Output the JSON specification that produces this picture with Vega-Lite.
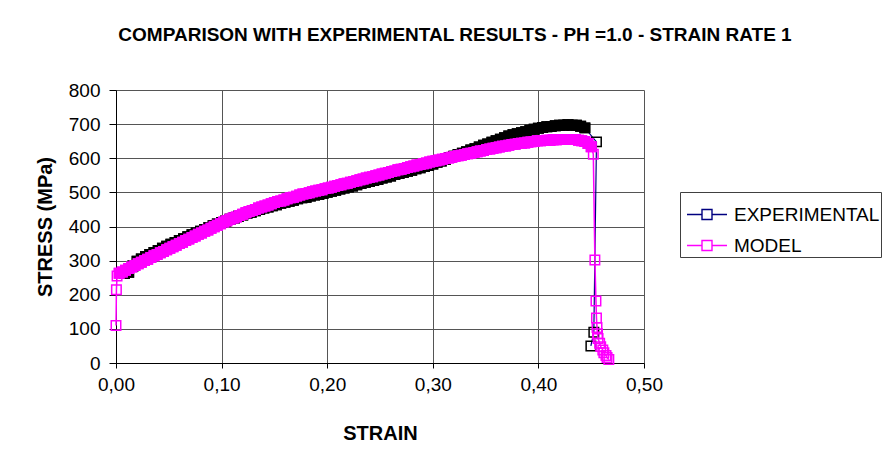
{
  "$schema": "https://vega.github.io/schema/vega-lite/v6.json",
  "width": 528,
  "height": 273,
  "autosize": {"type": "none"},
  "padding": {"left": 116, "top": 90, "right": 241, "bottom": 100},
  "background": "white",
  "title": {
    "text": "COMPARISON WITH EXPERIMENTAL RESULTS - PH =1.0 -  STRAIN RATE 1",
    "font": "Liberation Sans",
    "fontSize": 19,
    "fontWeight": "bold",
    "color": "black",
    "anchor": "middle",
    "dx": 75,
    "offset": 36
  },
  "datasets": {
    "exp": [
      {"x":0.008,"y":262},{"x":0.012,"y":266},{"x":0.016,"y":284},{"x":0.020,"y":298},{"x":0.024,"y":305},{"x":0.028,"y":312},{"x":0.032,"y":318},{"x":0.036,"y":324},{"x":0.040,"y":330},{"x":0.044,"y":336},{"x":0.048,"y":342},{"x":0.052,"y":348},{"x":0.056,"y":353},{"x":0.060,"y":359},{"x":0.064,"y":364},{"x":0.068,"y":370},{"x":0.072,"y":376},{"x":0.076,"y":381},{"x":0.080,"y":386},{"x":0.084,"y":391},{"x":0.088,"y":397},{"x":0.092,"y":402},{"x":0.096,"y":407},{"x":0.100,"y":412},{"x":0.104,"y":416},{"x":0.108,"y":421},{"x":0.112,"y":425},{"x":0.116,"y":430},{"x":0.120,"y":434},{"x":0.124,"y":439},{"x":0.128,"y":442},{"x":0.132,"y":446},{"x":0.136,"y":450},{"x":0.140,"y":454},{"x":0.144,"y":457},{"x":0.148,"y":461},{"x":0.152,"y":464},{"x":0.156,"y":468},{"x":0.160,"y":471},{"x":0.164,"y":474},{"x":0.168,"y":477},{"x":0.172,"y":481},{"x":0.176,"y":484},{"x":0.180,"y":486},{"x":0.184,"y":489},{"x":0.188,"y":492},{"x":0.192,"y":494},{"x":0.196,"y":497},{"x":0.200,"y":500},{"x":0.204,"y":503},{"x":0.208,"y":506},{"x":0.212,"y":510},{"x":0.216,"y":513},{"x":0.220,"y":516},{"x":0.224,"y":519},{"x":0.228,"y":522},{"x":0.232,"y":526},{"x":0.236,"y":529},{"x":0.240,"y":532},{"x":0.244,"y":535},{"x":0.248,"y":538},{"x":0.252,"y":542},{"x":0.256,"y":545},{"x":0.260,"y":548},{"x":0.264,"y":552},{"x":0.268,"y":555},{"x":0.272,"y":558},{"x":0.276,"y":562},{"x":0.280,"y":565},{"x":0.284,"y":569},{"x":0.288,"y":572},{"x":0.292,"y":576},{"x":0.296,"y":579},{"x":0.300,"y":583},{"x":0.304,"y":588},{"x":0.308,"y":592},{"x":0.312,"y":597},{"x":0.316,"y":602},{"x":0.320,"y":606},{"x":0.324,"y":611},{"x":0.328,"y":615},{"x":0.332,"y":619},{"x":0.336,"y":624},{"x":0.340,"y":628},{"x":0.344,"y":633},{"x":0.348,"y":638},{"x":0.352,"y":642},{"x":0.356,"y":647},{"x":0.360,"y":651},{"x":0.364,"y":656},{"x":0.368,"y":660},{"x":0.372,"y":665},{"x":0.376,"y":669},{"x":0.380,"y":672},{"x":0.384,"y":675},{"x":0.388,"y":678},{"x":0.392,"y":682},{"x":0.396,"y":685},{"x":0.400,"y":688},{"x":0.404,"y":690},{"x":0.408,"y":692},{"x":0.412,"y":693},{"x":0.416,"y":695},{"x":0.420,"y":697},{"x":0.424,"y":697},{"x":0.428,"y":698},{"x":0.432,"y":697},{"x":0.436,"y":697},{"x":0.440,"y":694},{"x":0.444,"y":689},{"x":0.455,"y":648},{"x":0.4525,"y":90},{"x":0.4497,"y":50}
    ],
    "mod": [
      {"x":0.0,"y":110},{"x":0.0004,"y":215},{"x":0.001,"y":255},{"x":0.003,"y":263},{"x":0.006,"y":267},{"x":0.009,"y":272},{"x":0.012,"y":277},{"x":0.015,"y":281},{"x":0.018,"y":286},{"x":0.021,"y":291},{"x":0.024,"y":295},{"x":0.027,"y":300},{"x":0.030,"y":304},{"x":0.033,"y":309},{"x":0.036,"y":314},{"x":0.039,"y":318},{"x":0.042,"y":323},{"x":0.045,"y":327},{"x":0.048,"y":332},{"x":0.051,"y":336},{"x":0.054,"y":341},{"x":0.057,"y":345},{"x":0.060,"y":350},{"x":0.063,"y":354},{"x":0.066,"y":359},{"x":0.069,"y":363},{"x":0.072,"y":368},{"x":0.075,"y":372},{"x":0.078,"y":377},{"x":0.081,"y":381},{"x":0.084,"y":386},{"x":0.087,"y":390},{"x":0.090,"y":395},{"x":0.093,"y":399},{"x":0.096,"y":404},{"x":0.099,"y":408},{"x":0.102,"y":413},{"x":0.105,"y":417},{"x":0.108,"y":421},{"x":0.111,"y":425},{"x":0.114,"y":428},{"x":0.117,"y":432},{"x":0.120,"y":436},{"x":0.123,"y":440},{"x":0.126,"y":444},{"x":0.129,"y":447},{"x":0.132,"y":450},{"x":0.135,"y":454},{"x":0.138,"y":457},{"x":0.141,"y":460},{"x":0.144,"y":463},{"x":0.147,"y":467},{"x":0.150,"y":470},{"x":0.153,"y":473},{"x":0.156,"y":475},{"x":0.159,"y":478},{"x":0.162,"y":481},{"x":0.165,"y":484},{"x":0.168,"y":486},{"x":0.171,"y":489},{"x":0.174,"y":492},{"x":0.177,"y":495},{"x":0.180,"y":497},{"x":0.183,"y":499},{"x":0.186,"y":502},{"x":0.189,"y":504},{"x":0.192,"y":506},{"x":0.195,"y":508},{"x":0.198,"y":511},{"x":0.201,"y":513},{"x":0.204,"y":515},{"x":0.207,"y":518},{"x":0.210,"y":520},{"x":0.213,"y":522},{"x":0.216,"y":525},{"x":0.219,"y":527},{"x":0.222,"y":530},{"x":0.225,"y":532},{"x":0.228,"y":534},{"x":0.231,"y":537},{"x":0.234,"y":539},{"x":0.237,"y":542},{"x":0.240,"y":544},{"x":0.243,"y":546},{"x":0.246,"y":549},{"x":0.249,"y":551},{"x":0.252,"y":554},{"x":0.255,"y":556},{"x":0.258,"y":558},{"x":0.261,"y":561},{"x":0.264,"y":563},{"x":0.267,"y":566},{"x":0.270,"y":568},{"x":0.273,"y":570},{"x":0.276,"y":573},{"x":0.279,"y":575},{"x":0.282,"y":577},{"x":0.285,"y":580},{"x":0.288,"y":582},{"x":0.291,"y":584},{"x":0.294,"y":586},{"x":0.297,"y":589},{"x":0.300,"y":591},{"x":0.303,"y":593},{"x":0.306,"y":595},{"x":0.309,"y":597},{"x":0.312,"y":599},{"x":0.315,"y":601},{"x":0.318,"y":603},{"x":0.321,"y":605},{"x":0.324,"y":607},{"x":0.327,"y":609},{"x":0.330,"y":611},{"x":0.333,"y":613},{"x":0.336,"y":615},{"x":0.339,"y":617},{"x":0.342,"y":619},{"x":0.345,"y":621},{"x":0.348,"y":623},{"x":0.351,"y":626},{"x":0.354,"y":627},{"x":0.357,"y":629},{"x":0.360,"y":631},{"x":0.363,"y":633},{"x":0.366,"y":635},{"x":0.369,"y":636},{"x":0.372,"y":638},{"x":0.375,"y":640},{"x":0.378,"y":641},{"x":0.381,"y":643},{"x":0.384,"y":644},{"x":0.387,"y":645},{"x":0.390,"y":647},{"x":0.393,"y":648},{"x":0.396,"y":649},{"x":0.399,"y":651},{"x":0.402,"y":651},{"x":0.405,"y":652},{"x":0.408,"y":653},{"x":0.411,"y":653},{"x":0.414,"y":654},{"x":0.417,"y":654},{"x":0.420,"y":655},{"x":0.423,"y":655},{"x":0.426,"y":655},{"x":0.429,"y":655},{"x":0.432,"y":655},{"x":0.435,"y":655},{"x":0.438,"y":653},{"x":0.441,"y":651},{"x":0.444,"y":649},{"x":0.447,"y":643},{"x":0.450,"y":634},{"x":0.452,"y":612},{"x":0.4535,"y":302},{"x":0.4545,"y":182},{"x":0.455,"y":132},{"x":0.4555,"y":104},{"x":0.456,"y":86},{"x":0.4565,"y":72},{"x":0.458,"y":58},{"x":0.459,"y":48},{"x":0.461,"y":38},{"x":0.462,"y":30},{"x":0.464,"y":22},{"x":0.465,"y":16},{"x":0.4667,"y":10}
    ]
  },
  "encoding": {
    "x": {
      "field": "x", "type": "quantitative",
      "scale": {"domain": [0, 0.5], "nice": false, "zero": false},
      "axis": {
        "title": "STRAIN",
        "values": [0, 0.1, 0.2, 0.3, 0.4, 0.5],
        "labelExpr": "replace(format(datum.value, '.2f'), '.', ',')",
        "labelFlush": false,
        "tickSize": 5,
        "labelPadding": 7,
        "titlePadding": 29
      }
    },
    "y": {
      "field": "y", "type": "quantitative",
      "scale": {"domain": [0, 800], "nice": false},
      "axis": {
        "title": "STRESS (MPa)",
        "values": [0, 100, 200, 300, 400, 500, 600, 700, 800],
        "tickSize": 7,
        "labelPadding": 9,
        "labelFlush": false,
        "titlePadding": 13
      }
    }
  },
  "layer": [
    {
      "data": {"name": "exp"},
      "mark": {"type": "line", "strokeWidth": 1.2, "clip": false},
      "encoding": {
        "color": {
          "datum": "EXPERIMENTAL",
          "scale": {"domain": ["EXPERIMENTAL", "MODEL"], "range": ["#000080", "#FF00FF"]},
          "legend": {
            "title": null,
            "orient": "none",
            "legendX": 564,
            "legendY": 102,
            "strokeColor": "#404040",
            "fillColor": "white",
            "padding": 1.5,
            "symbolOffset": 4.5,
            "symbolType": "M-1,0H-0.25M0.25,0H1M-0.25,-0.25H0.25V0.25H-0.25Z",
            "symbolSize": 1600,
            "symbolStrokeWidth": 1.4,
            "symbolFillColor": "transparent",
            "labelFont": "Liberation Sans",
            "labelFontSize": 19,
            "labelColor": "black",
            "labelOffset": 6,
            "rowPadding": 0
          }
        },
        "order": {"value": null}
      }
    },
    {
      "data": {"name": "exp"},
      "transform": [{"filter": "datum.x <= 0.445"}],
      "mark": {"type": "point", "shape": "square", "filled": true, "size": 90, "fill": "#000000", "stroke": "#000000", "strokeWidth": 1.5, "opacity": 1, "clip": false}
    },
    {
      "data": {"name": "exp"},
      "mark": {"type": "point", "shape": "square", "filled": false, "size": 90, "strokeWidth": 1.5, "stroke": "#000000", "opacity": 1, "clip": false}
    },
    {
      "data": {"name": "mod"},
      "mark": {"type": "line", "strokeWidth": 1.5, "clip": false},
      "encoding": {
        "color": {"datum": "MODEL"},
        "order": {"value": null}
      }
    },
    {
      "data": {"name": "mod"},
      "transform": [{"filter": "datum.x <= 0.451 && datum.x >= 0.002"}],
      "mark": {"type": "point", "shape": "square", "filled": true, "size": 90, "fill": "#FF00FF", "stroke": "#FF00FF", "strokeWidth": 1.5, "opacity": 1, "clip": false}
    },
    {
      "data": {"name": "mod"},
      "mark": {"type": "point", "shape": "square", "filled": false, "size": 90, "strokeWidth": 1.5, "stroke": "#FF00FF", "opacity": 1, "clip": false}
    }
  ],
  "config": {
    "view": {"stroke": null},
    "axis": {
      "labelFont": "Liberation Sans",
      "labelFontSize": 19,
      "labelColor": "black",
      "titleFont": "Liberation Sans",
      "titleFontSize": 20,
      "titleFontWeight": "bold",
      "titleColor": "black",
      "grid": true,
      "gridColor": "#555555",
      "gridWidth": 1,
      "domainColor": "black",
      "domainWidth": 1,
      "tickColor": "black",
      "tickWidth": 1
    }
  }
}
